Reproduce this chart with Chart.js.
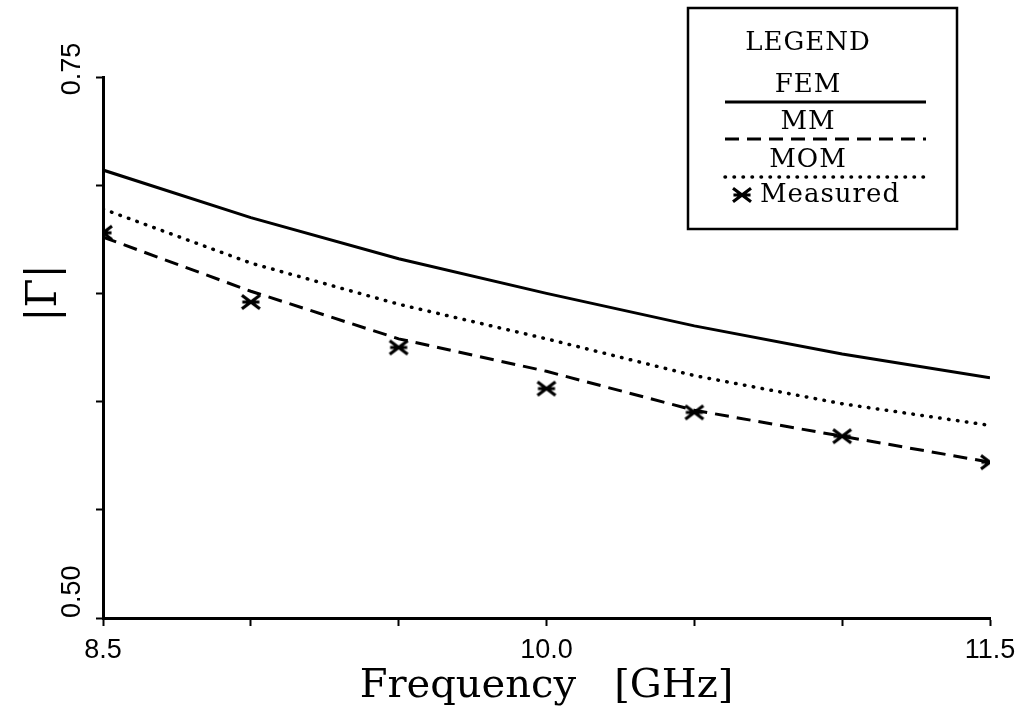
<!DOCTYPE html>
<html>
<head>
<meta charset="utf-8">
<script src="https://cdn.jsdelivr.net/npm/chart.js@4.4.1/dist/chart.umd.min.js"></script>
<style>
  html, body { margin: 0; padding: 0; background: #fff; }
  #wrap { width: 1033px; height: 721px; position: relative; }
</style>
</head>
<body>
<div id="wrap"><canvas id="chart"></canvas></div>
<script>
// values, frequency in GHz
const freqs    = [8.5, 9.0, 9.5, 10.0, 10.5, 11.0, 11.5];
const fem      = [0.707, 0.685, 0.666, 0.650, 0.635, 0.622, 0.611];
const mm       = [0.676, 0.651, 0.629, 0.614, 0.596, 0.584, 0.572];
const mom      = [0.689, 0.664, 0.645, 0.629, 0.612, 0.599, 0.589];
const measured = [0.678, 0.646, 0.625, 0.606, 0.595, 0.584, 0.572];

const xLabelTicks = [8.5, 10.0, 11.5];
const yLabelTicks = [0.50, 0.75];

function toXY(ys) {
  return freqs.map((f, i) => ({ x: f, y: ys[i] }));
}

// the "asterisk" used for measured points: an x with a crossbar
function makeStar(size) {
  const c = document.createElement('canvas');
  c.width = size; c.height = size;
  const g = c.getContext('2d');
  g.strokeStyle = '#000';
  g.lineWidth = 3.2;
  const m = size / 2, r = size / 2 - 3;
  g.beginPath();
  g.moveTo(m - r, m - r * 0.75); g.lineTo(m + r, m + r * 0.75);
  g.moveTo(m - r, m + r * 0.75); g.lineTo(m + r, m - r * 0.75);
  g.moveTo(m - r * 0.95, m); g.lineTo(m + r * 0.95, m);
  g.stroke();
  return c;
}
const starImg = makeStar(24);

// rotated y labels, y title and the boxed legend
const paperPlugin = {
  id: 'paper',
  afterDraw(chart) {
    const ctx = chart.ctx;
    const yScale = chart.scales.y;
    ctx.save();
    ctx.fillStyle = '#000';

    ctx.font = '27px "Liberation Sans"';
    ctx.textBaseline = 'middle';
    yLabelTicks.forEach((v, i) => {
      const py = yScale.getPixelForValue(v);
      ctx.save();
      ctx.translate(73, py);
      ctx.rotate(-Math.PI / 2);
      ctx.textAlign = i === 0 ? 'left' : 'center';
      ctx.fillText(v.toFixed(2), i === 0 ? 0 : 8, 0);
      ctx.restore();
    });

    ctx.save();
    ctx.font = '42px "DejaVu Serif"';
    ctx.translate(45, 293);
    ctx.rotate(-Math.PI / 2);
    ctx.textAlign = 'center';
    ctx.fillText('|\u0393|', 0, 0);
    ctx.restore();

    // legend box
    const bx = 688, by = 8, bw = 269, bh = 221;
    ctx.strokeStyle = '#000';
    ctx.lineWidth = 2.5;
    ctx.strokeRect(bx, by, bw, bh);

    ctx.font = '26px "DejaVu Serif"';
    ctx.letterSpacing = '1px';
    ctx.textAlign = 'center';
    ctx.fillText('LEGEND', 808, 43);

    const ds = chart.data.datasets;
    const rows = [85, 122, 160];
    for (let i = 0; i < 3; i++) {
      ctx.fillText(ds[i].label, 808, rows[i]);
      ctx.save();
      ctx.lineWidth = ds[i].borderWidth;
      ctx.lineCap = ds[i].borderCapStyle || 'butt';
      ctx.setLineDash(ds[i].borderDash || []);
      ctx.beginPath();
      ctx.moveTo(725, rows[i] + 17);
      ctx.lineTo(926, rows[i] + 17);
      ctx.stroke();
      ctx.restore();
    }
    ctx.drawImage(starImg, 730, 183);
    ctx.textAlign = 'left';
    ctx.fillText(ds[3].label, 760, 195);

    ctx.restore();
  }
};

new Chart(document.getElementById('chart'), {
  type: 'line',
  data: {
    datasets: [
      { label: 'FEM', data: toXY(fem), borderColor: '#000', borderWidth: 3,
        pointRadius: 0, tension: 0 },
      { label: 'MM', data: toXY(mm), borderColor: '#000', borderWidth: 3,
        borderDash: [14, 8], pointRadius: 0, tension: 0 },
      { label: 'MOM', data: toXY(mom), borderColor: '#000', borderWidth: 3.5,
        borderDash: [0.5, 8.5], borderCapStyle: 'round', pointRadius: 0, tension: 0 },
      { label: 'Measured', data: toXY(measured), showLine: false,
        pointStyle: starImg, pointRadius: 12 }
    ]
  },
  options: {
    responsive: true,
    maintainAspectRatio: false,
    animation: false,
    layout: { padding: { left: 0, top: 77, right: 43, bottom: 0 } },
    plugins: {
      legend: { display: false },
      tooltip: { enabled: false }
    },
    scales: {
      x: {
        type: 'linear',
        min: 8.5,
        max: 11.5,
        afterFit: (s) => { s.height = 103; },
        border: { display: true, color: '#000', width: 3 },
        grid: { drawOnChartArea: false, drawTicks: true, tickLength: 8, tickWidth: 2, color: '#000' },
        ticks: {
          stepSize: 0.5,
          autoSkip: false,
          maxRotation: 0,
          padding: 8,
          color: '#000',
          font: { family: 'Liberation Sans', size: 27 },
          callback: (v) => xLabelTicks.some(t => Math.abs(t - v) < 1e-6) ? v.toFixed(1) : ''
        },
        title: {
          display: true,
          text: 'Frequency   [GHz]',
          color: '#000',
          font: { family: 'DejaVu Serif', size: 40 },
          padding: { top: 0, bottom: 10 }
        }
      },
      y: {
        min: 0.5,
        max: 0.75,
        afterFit: (s) => { s.width = 103; },
        border: { display: true, color: '#000', width: 3 },
        grid: { drawOnChartArea: false, drawTicks: true, tickLength: 7, tickWidth: 2, color: '#000' },
        ticks: {
          stepSize: 0.05,
          autoSkip: false,
          callback: () => ''
        }
      }
    }
  },
  plugins: [paperPlugin]
});
</script>
</body>
</html>
